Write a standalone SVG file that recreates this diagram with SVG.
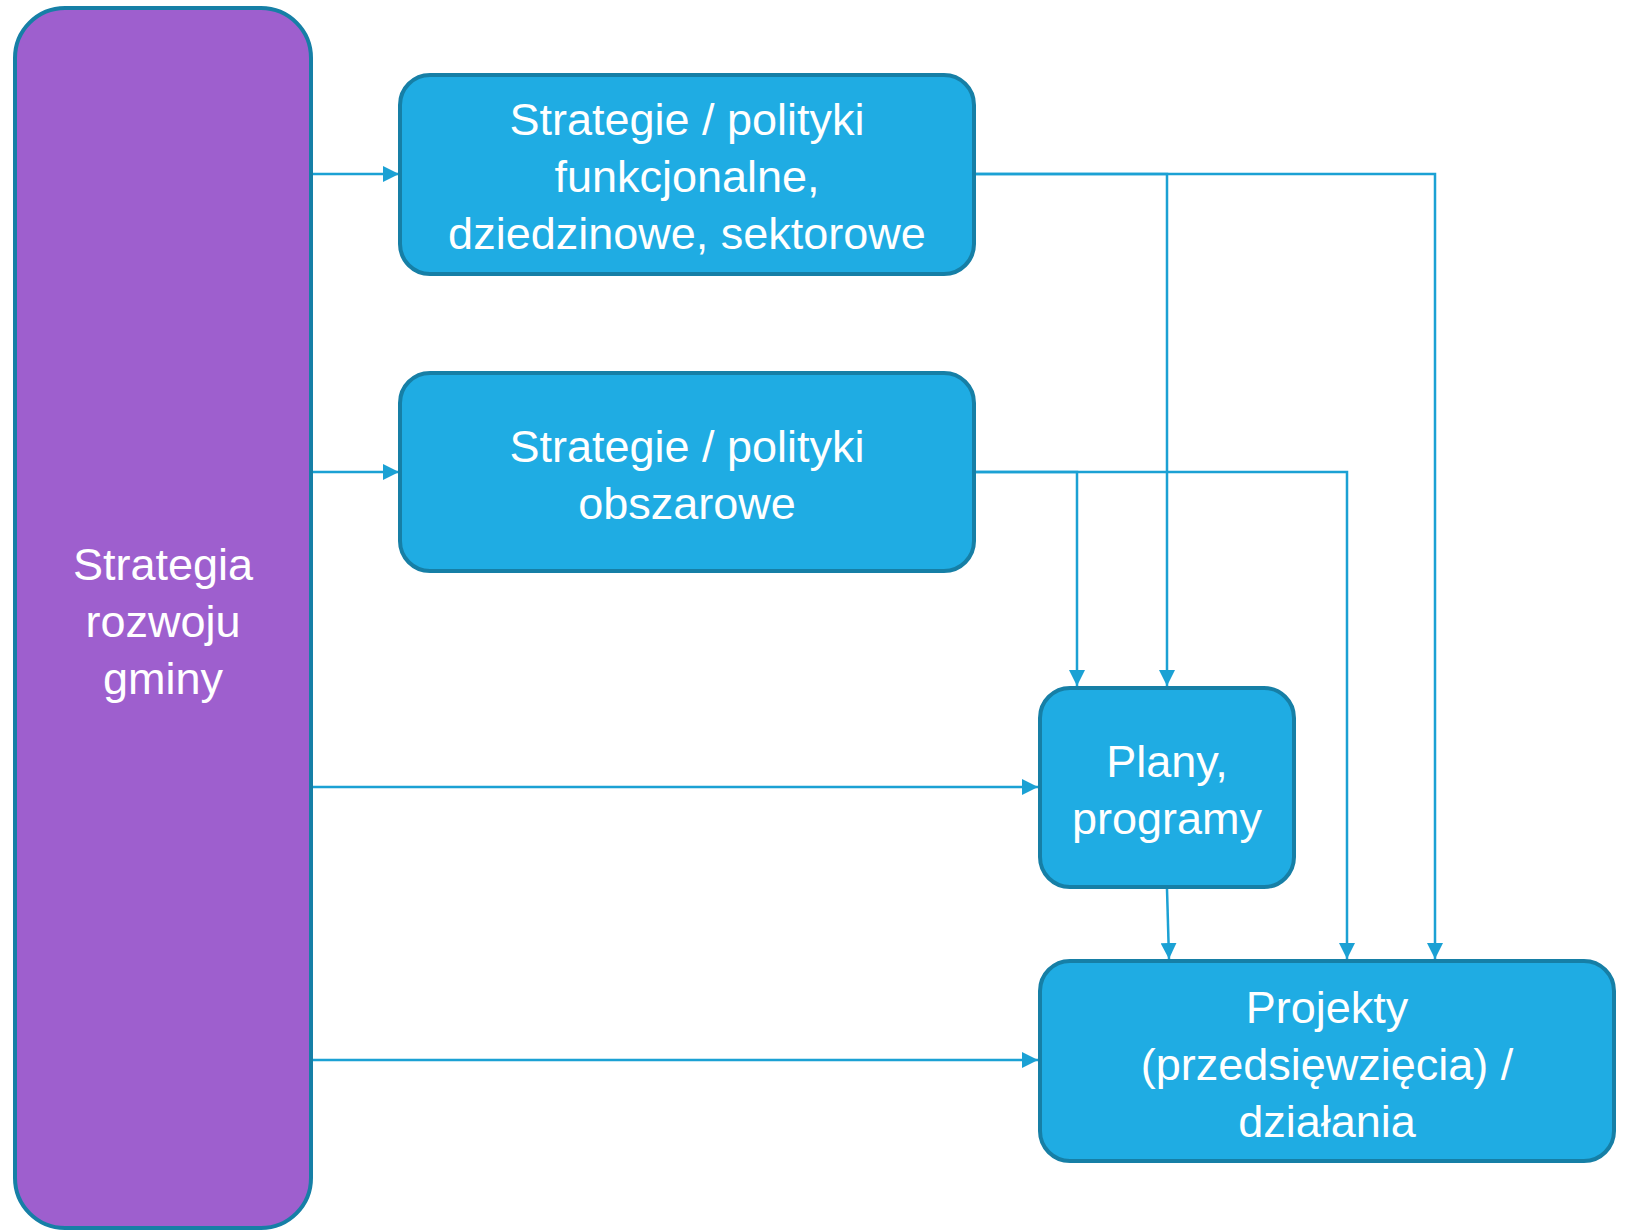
<svg xmlns="http://www.w3.org/2000/svg" width="1631" height="1231" viewBox="0 0 1631 1231">
<style>
.box{fill:#1FACE3;stroke:#167FA6;stroke-width:4}
.main{fill:#9E5FCE;stroke:#167FA6;stroke-width:4}
.lbl{font-family:"Liberation Sans",Arial,sans-serif;font-size:45px;fill:#ffffff;text-anchor:middle}
.con{fill:none;stroke:#1BA1D4;stroke-width:2.5}
</style>
<defs>
<marker id="ah" markerUnits="userSpaceOnUse" markerWidth="16" markerHeight="16" refX="16" refY="8" orient="auto">
<path d="M0,0 L16,8 L0,16 z" fill="#1BA1D4"/>
</marker>
</defs>
<rect width="1631" height="1231" fill="#ffffff"/>
<g id="connectors">
<line class="con" x1="311" y1="174" x2="399" y2="174" marker-end="url(#ah)"/>
<line class="con" x1="311" y1="472" x2="399" y2="472" marker-end="url(#ah)"/>
<line class="con" x1="311" y1="787" x2="1038" y2="787" marker-end="url(#ah)"/>
<line class="con" x1="311" y1="1060" x2="1038" y2="1060" marker-end="url(#ah)"/>
<polyline class="con" points="976,174 1167,174 1167,686" marker-end="url(#ah)"/>
<polyline class="con" points="976,174 1435,174 1435,959" marker-end="url(#ah)"/>
<polyline class="con" points="976,472 1077,472 1077,686" marker-end="url(#ah)"/>
<polyline class="con" points="976,472 1347,472 1347,959" marker-end="url(#ah)"/>
<line class="con" x1="1167" y1="889" x2="1169" y2="959" marker-end="url(#ah)"/>
</g>
<g id="strategia">
<rect class="main" x="15" y="8" width="296" height="1220" rx="50" ry="50"/>
<text class="lbl"><tspan x="163" y="580">Strategia</tspan><tspan x="163" y="637">rozwoju</tspan><tspan x="163" y="694">gminy</tspan></text>
</g>
<g id="funkcjonalne">
<rect class="box" x="400" y="75" width="574" height="199" rx="30" ry="30"/>
<text class="lbl"><tspan x="687" y="135">Strategie / polityki</tspan><tspan x="687" y="192">funkcjonalne,</tspan><tspan x="687" y="249">dziedzinowe, sektorowe</tspan></text>
</g>
<g id="obszarowe">
<rect class="box" x="400" y="373" width="574" height="198" rx="30" ry="30"/>
<text class="lbl"><tspan x="687" y="462">Strategie / polityki</tspan><tspan x="687" y="519">obszarowe</tspan></text>
</g>
<g id="plany">
<rect class="box" x="1040" y="688" width="254" height="199" rx="30" ry="30"/>
<text class="lbl"><tspan x="1167" y="777">Plany,</tspan><tspan x="1167" y="834">programy</tspan></text>
</g>
<g id="projekty">
<rect class="box" x="1040" y="961" width="574" height="200" rx="30" ry="30"/>
<text class="lbl"><tspan x="1327" y="1023">Projekty</tspan><tspan x="1327" y="1080">(przedsięwzięcia) /</tspan><tspan x="1327" y="1137">działania</tspan></text>
</g>
</svg>
